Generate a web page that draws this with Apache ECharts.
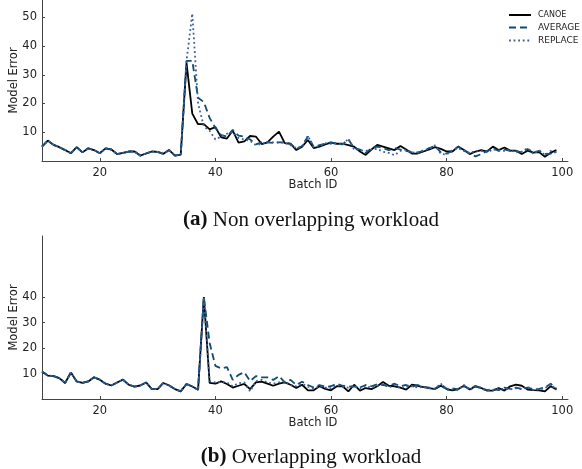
<!DOCTYPE html>
<html>
<head>
<meta charset="utf-8">
<script src="https://cdn.jsdelivr.net/npm/echarts@6/dist/echarts.min.js"></script>
<style>
html,body{margin:0;padding:0;background:#fff;}
#chart{width:582px;height:469px;}
</style>
</head>
<body>
<div id="chart"></div>
<script>
// Batch IDs 10..99
const batchIds = [10,11,12,13,14,15,16,17,18,19,20,21,22,23,24,25,26,27,28,29,30,31,32,33,34,35,36,37,38,39,40,41,42,43,44,45,46,47,48,49,50,51,52,53,54,55,56,57,58,59,60,61,62,63,64,65,66,67,68,69,70,71,72,73,74,75,76,77,78,79,80,81,82,83,84,85,86,87,88,89,90,91,92,93,94,95,96,97,98,99];

// (a) Non overlapping workload
const aCanoe = [5.0,7.1,5.6,4.8,3.8,2.7,4.8,3.0,4.4,3.8,2.7,4.4,4.0,2.4,2.8,3.3,3.3,1.9,2.6,3.3,3.2,2.5,3.8,1.9,2.2,34.1,16.5,12.8,12.8,11.0,11.8,8.2,7.8,10.6,6.4,6.8,8.7,8.5,5.9,6.5,8.5,10.2,6.2,6.0,3.8,5.0,7.3,4.5,5.0,5.8,6.4,6.0,6.0,5.5,5.0,3.3,2.1,4.0,5.6,5.0,4.4,3.8,5.2,4.0,2.6,2.6,3.3,4.0,4.8,4.2,3.3,3.3,5.0,3.8,2.4,3.3,3.8,3.3,5.0,3.8,4.7,3.6,3.6,2.4,3.6,2.9,3.1,1.5,2.9,3.8];
const aAverage = [5.0,7.1,5.6,4.8,3.8,2.7,4.8,3.0,4.4,3.8,2.7,4.4,4.0,2.4,2.8,3.3,3.3,1.9,2.6,3.3,3.2,2.5,3.8,1.9,2.2,34.8,34.8,22.0,20.5,15.0,11.5,9.0,8.5,10.8,8.8,8.5,7.5,5.8,6.5,6.5,6.3,6.5,6.5,6.0,4.2,5.2,8.5,5.0,5.5,6.0,6.5,6.0,5.8,7.5,4.5,4.0,2.8,4.5,5.0,4.5,3.8,4.5,4.0,3.5,3.0,3.0,3.5,4.5,5.2,3.0,2.6,3.5,5.0,3.8,2.5,1.6,2.4,3.5,4.5,3.5,4.0,3.5,3.5,3.0,4.2,3.0,3.5,2.5,2.6,3.2];
const aReplace = [5.0,7.1,5.6,4.8,3.8,2.7,4.8,3.0,4.4,3.8,2.7,4.4,4.0,2.4,2.8,3.3,3.3,1.9,2.6,3.3,3.2,2.5,3.8,1.9,2.2,34.8,51.3,20.0,12.0,10.5,7.5,8.5,9.5,10.0,8.0,7.5,7.0,5.5,6.0,6.5,6.5,6.5,6.3,5.5,4.5,5.0,8.8,4.8,5.2,6.2,6.0,6.2,5.5,7.8,4.0,3.8,3.5,4.0,4.2,3.2,2.8,2.0,3.5,4.0,3.0,2.8,3.8,4.2,5.5,2.5,2.2,3.8,4.5,3.5,2.8,3.5,3.5,3.0,4.0,3.8,3.5,3.8,3.0,3.2,4.5,2.5,3.8,2.0,3.5,2.8];

// (b) Overlapping workload
const bCanoe = [10.8,9.2,9.0,8.2,6.3,10.4,6.9,6.3,6.9,8.5,7.6,6.0,5.3,6.5,7.6,5.6,4.9,5.3,6.5,3.9,3.9,6.3,5.3,3.9,3.0,5.9,4.9,3.6,40.0,6.3,6.0,6.9,5.9,4.5,5.2,5.9,3.9,6.5,6.8,6.0,5.2,6.0,6.5,5.6,4.3,5.6,3.4,3.4,5.0,4.0,3.4,5.0,5.0,3.0,5.6,3.3,4.3,3.9,5.0,6.7,5.2,5.0,4.5,3.7,5.6,5.2,4.7,4.3,3.9,5.2,3.9,3.4,3.9,5.2,3.7,5.0,4.3,3.3,3.3,4.3,3.3,5.0,5.6,5.2,3.7,3.5,3.4,3.0,5.0,3.7];
const bAverage = [10.8,9.2,9.0,8.2,6.3,10.4,6.9,6.3,6.9,8.5,7.6,6.0,5.3,6.5,7.6,5.6,4.9,5.3,6.5,3.9,3.9,6.3,5.3,3.9,3.0,5.9,4.9,3.6,40.0,22.0,13.0,12.0,12.5,7.5,9.5,10.5,7.0,9.0,8.5,8.5,7.5,9.0,6.5,7.5,5.5,6.8,5.5,4.5,5.5,4.8,5.0,6.0,5.2,4.8,5.0,4.5,5.5,5.0,5.8,5.5,5.2,6.0,5.0,5.5,4.8,5.5,4.8,4.5,4.0,5.8,4.0,4.2,3.8,5.0,4.0,5.2,4.0,3.5,3.8,3.5,4.5,4.0,4.5,4.0,4.5,3.8,4.0,4.5,6.0,4.0];
const bReplace = [10.8,9.2,9.0,8.2,6.3,10.4,6.9,6.3,6.9,8.5,7.6,6.0,5.3,6.5,7.6,5.6,4.9,5.3,6.5,3.9,3.9,6.3,5.3,3.9,3.0,5.9,4.9,3.6,40.0,7.0,6.5,6.8,6.5,5.0,6.2,6.5,3.0,7.0,7.5,6.5,6.0,6.5,7.0,5.5,5.0,6.0,4.8,4.0,5.0,4.5,4.2,5.5,4.8,4.5,5.2,4.0,5.0,4.5,5.2,5.8,4.5,5.5,4.2,5.0,5.0,4.5,4.8,4.2,4.0,6.0,3.5,3.8,3.5,5.5,3.5,4.8,4.5,3.5,3.5,4.0,4.0,3.8,4.2,3.8,4.8,3.5,3.8,4.2,5.8,3.6];

const seriesNames = ['CANOE','AVERAGE','REPLACE'];
const xTicks = [20,40,60,80,100];
const yTicksA = [10,20,30,40,50];
const yTicksB = [10,20,30,40];
const captionA = ['(a)', ' Non overlapping workload'];
const captionB = ['(b)', ' Overlapping workload'];

const colors = {CANOE:'#000000', AVERAGE:'#0f4c6e', REPLACE:'#3b5e9e'};
const dashes = {CANOE:'solid', AVERAGE:[7,4], REPLACE:[1.8,2.8]};

function pairs(vals){ return batchIds.map((x,i)=>[x, vals[i]]); }

const chart = echarts.init(document.getElementById('chart'), null, {renderer:'canvas'});
const axisFont = {fontFamily:'DejaVu Sans', fontSize:11.5, color:'#222'};

function xAx(gi){
  return {
    type:'value', gridIndex:gi, min:10, max:101,
    name:'Batch ID', nameLocation:'middle', nameGap:18, nameMoveOverlap:false,
    nameTextStyle:Object.assign({}, axisFont, {padding:[0,0,0,16], verticalAlign:'top'}),
    axisLine:{show:true, lineStyle:{color:'#444', width:1}},
    axisTick:{show:true, inside:true, length:3, customValues:xTicks, lineStyle:{color:'#444'}},
    axisLabel:Object.assign({}, axisFont, {customValues:xTicks, margin:6}),
    splitLine:{show:false}
  };
}
function yAx(gi, max, ticks){
  return {
    type:'value', gridIndex:gi, min:0, max:max,
    name:'Model Error', nameLocation:'middle', nameGap:22, nameRotate:90, nameMoveOverlap:false,
    nameTextStyle:axisFont,
    axisLine:{show:true, lineStyle:{color:'#444', width:1}},
    axisTick:{show:true, inside:true, length:3, customValues:ticks, lineStyle:{color:'#444'}},
    axisLabel:Object.assign({}, axisFont, {customValues:ticks, margin:5}),
    splitLine:{show:false}
  };
}
function mkSeries(gi, arrs){
  return seriesNames.map((n,k)=>({
    name:n, type:'line', xAxisIndex:gi, yAxisIndex:gi,
    data:pairs(arrs[k]), symbol:'none', showSymbol:false,
    lineStyle:{color:colors[n], width:1.8, type:dashes[n]},
    itemStyle:{color:colors[n]},
    z:2+k
  }));
}
function caption(parts, y){
  return {type:'text', x:311, y:y, style:{
    text:'{b|'+parts[0]+'}{r|'+parts[1]+'}',
    align:'center', verticalAlign:'middle',
    rich:{b:{fontFamily:'Liberation Serif', fontWeight:'bold', fontSize:21, fill:'#111'},
          r:{fontFamily:'Liberation Serif', fontSize:21, fill:'#111'}}
  }};
}

const option = {
  animation:false,
  backgroundColor:'#fff',
  grid:[
    {left:42, top:0, width:526, height:161, containLabel:false, outerBoundsMode:'none'},
    {left:42, top:236, width:526, height:163, containLabel:false, outerBoundsMode:'none'}
  ],
  xAxis:[xAx(0), xAx(1)],
  yAxis:[yAx(0,56,yTicksA), yAx(1,64,yTicksB)],
  legend:{
    data:seriesNames, orient:'vertical', left:503, top:6,
    itemWidth:22, itemHeight:10, itemGap:4,
    itemStyle:{opacity:0},
    formatter:function(n){ return n==='CANOE' ? '{s|'+n+'}' : '{n|'+n+'}'; },
    textStyle:{fontFamily:'DejaVu Sans', color:'#222', padding:[0,0,0,2],
      rich:{s:{fontSize:8, fontFamily:'DejaVu Sans', color:'#222'}, n:{fontSize:9, fontFamily:'DejaVu Sans', color:'#222'}}}
  },
  graphic:[caption(captionA, 220), caption(captionB, 457)],
  series:[].concat(mkSeries(0,[aCanoe,aAverage,aReplace]), mkSeries(1,[bCanoe,bAverage,bReplace]))
};
chart.setOption(option);
</script>
</body>
</html>
